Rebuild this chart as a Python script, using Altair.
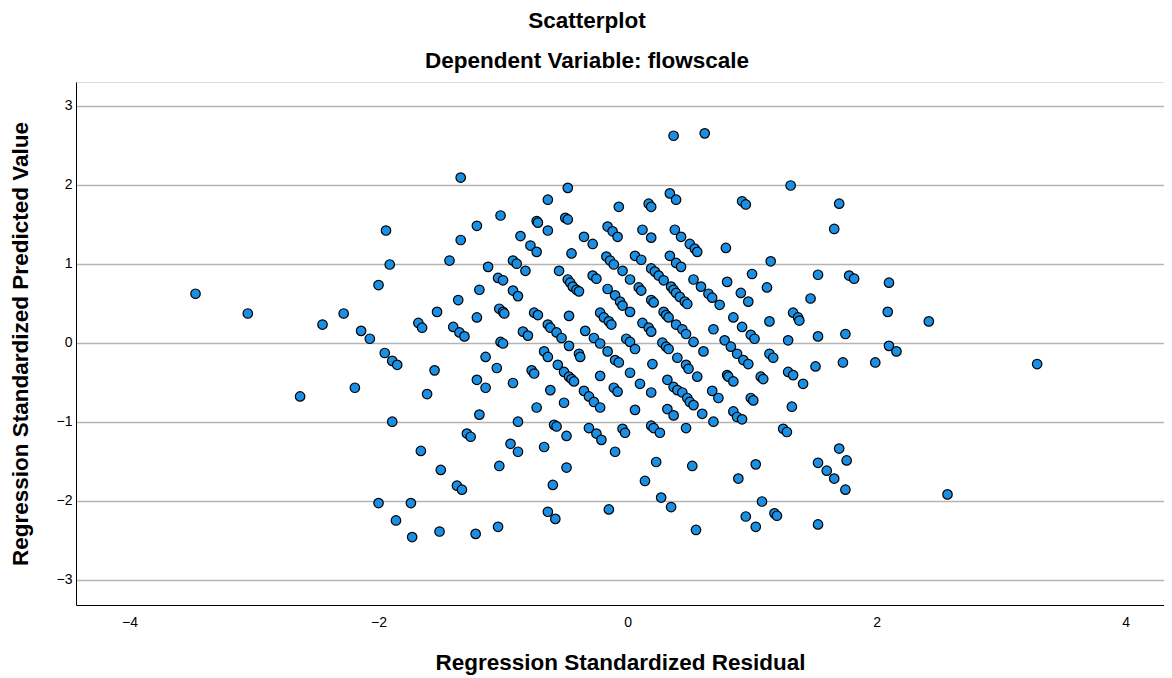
import altair as alt
import pandas as pd

# Regression Standardized Residual (x) for each case
residual = [
    -1.94, -1.91, -1.34, -0.48, -0.64, -0.07, -1.02, -1.21, -0.73, -0.72,
    -0.50, -0.48, -0.64, -0.86, -0.78, -0.73, -1.34, -0.45, -0.35, -0.28,
    -0.16, -0.12, -0.08, -0.17, -0.14, -0.11, -1.43, -1.12, -0.92, -0.89,
    -0.82, -0.55, -0.04, 0.37, 0.62, 1.31, 0.34, 0.39, 0.92, 0.95,
    1.70, 0.17, 0.19, 1.66, 0.12, 0.19, 0.38, 0.43, 0.50, 0.54,
    0.56, 0.79, 1.15, 0.06, 0.11, 0.34, 0.39, 0.43, 0.19, -3.47,
    -3.05, -2.45, -2.28, -2.00, -2.14, -2.07, -1.95, -1.89, -1.85, -2.63,
    -2.19, -1.89, -2.00, -1.86, -0.88, -0.59, -0.57, -0.31, -0.25, -0.21,
    -0.04, -0.02, -0.10, -1.29, -1.26, -0.94, -0.88, -0.67, -0.49, -1.66,
    -1.50, -1.03, -0.49, -1.37, -1.33, -0.60, -1.74, -1.73, -1.51, -1.22,
    -1.04, -0.64, -0.58, -0.15, 0.19, 0.21, 0.26, 0.47, 0.69, 0.85,
    0.88, 0.92, 1.25, 1.28, 1.70, 1.76, 1.53, 1.60, 1.66, 1.75,
    0.23, 0.52, 1.03, 0.14, 0.89, 0.27, 0.35, 1.08, 0.95, 1.18,
    1.20, 1.03, 1.53, 0.55, 2.57, 1.78, 1.82, 2.10, 2.09, 2.42,
    1.75, 2.10, 2.16, 1.73, 1.99, 3.29, 0.02, 0.09, 0.11, 0.22,
    0.25, 0.29, 0.35, 0.37, 0.39, 0.42, 0.46, 0.48, 0.53, 0.59,
    0.65, 0.68, 0.74, 0.80, 1.00, 1.53, 0.91, 0.97, 1.12, 1.47,
    0.02, 0.19, 0.21, 0.29, 0.31, 0.33, 0.12, 0.17, 0.19, 0.39,
    0.44, 0.47, 0.53, 0.69, 0.85, 0.92, 0.99, 1.02, 1.14, 1.33,
    1.37, 1.38, 1.53, 1.29, -0.01, 0.02, 0.06, 0.28, 0.31, 0.33,
    0.61, 0.78, 0.83, 0.88, 0.93, 0.97, 1.14, 1.17, 1.29, 1.33,
    1.41, 1.51, 0.20, 0.40, 0.47, 0.49, 0.56, 0.02, 0.10, 0.19,
    0.32, 0.37, 0.40, 0.44, 0.48, 0.50, 0.53, 0.60, 0.80, 0.81,
    0.85, 0.68, 0.73, 1.07, 1.09, 0.99, 1.01, 1.32, 0.06, 0.32,
    0.37, -1.04, -1.00, -1.19, -0.92, -0.88, -1.36, -1.53, -1.21, -1.03,
    -1.00, -0.99, -1.68, -1.65, -1.40, -1.35, -1.31, -1.02, -1.00, -0.84,
    -0.80, -0.75, -0.72, -0.48, -0.46, -0.44, -0.41, -0.39, -0.28, -0.25,
    -0.16, -0.10, -0.06, -0.04, -0.47, -0.64, -0.62, -0.57, -0.53, -0.47,
    -0.34, -0.27, -0.22, -0.16, -0.22, -0.19, -0.15, -0.13, -0.67, -0.64,
    -0.56, -0.51, -0.47, -0.45, -0.43, -0.39, -0.38, -0.35, -0.31, -0.27,
    -0.22, -0.22, -0.10, -0.07, -0.11, -0.08, -1.14, -1.05, -1.21, -1.14,
    -0.92, -0.77, -0.75, -0.62, -0.51, -0.73, -1.55, -1.61, -1.19,
]

# Regression Standardized Predicted Value (y) for each case
predicted = [
    1.42, 0.99, 2.09, 1.96, 1.81, 1.72, 1.61, 1.48, 1.54, 1.52,
    1.58, 1.56, 1.42, 1.35, 1.23, 1.15, 1.30, 1.13, 1.34, 1.25,
    1.47, 1.41, 1.34, 1.09, 1.04, 0.99, 1.04, 0.96, 1.04, 1.00,
    0.91, 0.91, 0.91, 2.62, 2.65, 1.99, 1.89, 1.81, 1.79, 1.75,
    1.76, 1.76, 1.72, 1.44, 1.43, 1.33, 1.43, 1.34, 1.25, 1.19,
    1.15, 1.20, 1.03, 1.10, 1.05, 1.10, 1.01, 0.96, 0.94, 0.62,
    0.37, 0.23, 0.37, 0.73, 0.15, 0.05, -0.13, -0.23, -0.28, -0.68,
    -0.57, -1.00, -2.03, -2.25, -1.00, -1.04, -1.06, -1.08, -1.15, -1.23,
    -1.09, -1.14, -1.38, -1.15, -1.19, -1.28, -1.38, -1.32, -1.18, -1.37,
    -1.61, -1.56, -1.58, -1.81, -1.86, -1.80, -2.03, -2.46, -2.39, -2.42,
    -2.33, -2.14, -2.23, -2.11, -1.05, -1.08, -1.14, -1.08, -1.00, -0.87,
    -0.94, -0.97, -1.09, -1.13, -1.34, -1.49, -1.52, -1.62, -1.72, -1.86,
    -1.51, -1.56, -1.54, -1.75, -1.72, -1.96, -2.08, -2.01, -2.20, -2.16,
    -2.19, -2.33, -2.30, -2.37, -1.92, 0.85, 0.81, 0.76, 0.39, 0.27,
    0.11, -0.04, -0.11, -0.25, -0.25, -0.27, 0.80, 0.70, 0.66, 0.90,
    0.85, 0.79, 0.71, 0.67, 0.63, 0.58, 0.52, 0.49, 0.80, 0.71,
    0.62, 0.57, 0.48, 0.77, 0.87, 0.86, 0.63, 0.52, 0.70, 0.56,
    0.39, 0.54, 0.51, 0.39, 0.35, 0.32, 0.25, 0.19, 0.14, 0.23,
    0.17, 0.11, 0.01, 0.17, 0.32, 0.20, 0.10, 0.05, 0.27, 0.38,
    0.32, 0.28, 0.08, 0.03, 0.05, 0.01, -0.08, 0.00, -0.05, -0.08,
    -0.11, 0.03, -0.05, -0.14, -0.22, -0.27, -0.14, -0.19, -0.37, -0.41,
    -0.52, -0.30, -0.27, -0.19, -0.28, -0.33, -0.43, -0.38, -0.52, -0.63,
    -0.47, -0.56, -0.60, -0.63, -0.70, -0.75, -0.79, -0.90, -0.41, -0.43,
    -0.49, -0.61, -0.70, -0.43, -0.46, -0.70, -0.73, -0.81, -0.85, -0.84,
    -0.92, 0.82, 0.79, 0.67, 0.66, 0.59, 0.54, 0.39, 0.32, 0.43,
    0.39, 0.37, 0.25, 0.19, 0.20, 0.13, 0.08, 0.01, -0.01, 0.14,
    0.09, 0.38, 0.35, 0.80, 0.76, 0.71, 0.67, 0.65, 0.85, 0.81,
    0.68, 0.60, 0.52, 0.47, 0.34, 0.23, 0.19, 0.13, 0.06, -0.04,
    0.15, 0.06, -0.01, -0.11, 0.38, 0.32, 0.27, 0.23, -0.11, -0.18,
    -0.28, -0.37, -0.43, -0.46, -0.49, -0.14, -0.18, -0.61, -0.68, -0.75,
    -0.82, -0.42, -0.22, -0.25, -0.57, -0.62, -0.18, -0.32, -0.47, -0.57,
    -0.51, -0.35, -0.39, -0.60, -0.76, -0.82, -0.35, -0.65, -0.91,
]

x_ticks = [-4, -2, 0, 2, 4]
y_ticks = [-3, -2, -1, 0, 1, 2, 3]

df = pd.DataFrame({"residual": residual, "predicted": predicted})

FONT = "Arial, Liberation Sans, sans-serif"
TITLE_SIZE = 22.5

chart = (
    alt.Chart(df)
    .mark_circle(size=90, color="#1b8fe3", stroke="#000000", strokeWidth=1.2, opacity=1)
    .encode(
        x=alt.X(
            "residual:Q",
            scale=alt.Scale(domain=[-4.43, 4.309], nice=False, zero=False),
            axis=alt.Axis(
                values=x_ticks,
                title="Regression Standardized Residual",
                grid=False,
                ticks=False,
                labelPadding=10,
                titlePadding=22,
                domainColor="#000000",
                domainWidth=1,
                labelFontSize=14,
                labelColor="#000000",
                labelFont=FONT,
                titleFont=FONT,
                titleFontSize=TITLE_SIZE,
                titleFontWeight="bold",
                titleColor="#000000",
            ),
        ),
        y=alt.Y(
            "predicted:Q",
            scale=alt.Scale(domain=[-3.32, 3.3], nice=False, zero=False),
            axis=alt.Axis(
                values=y_ticks,
                title="Regression Standardized Predicted Value",
                grid=True,
                gridColor="#b4b4b4",
                gridWidth=1.3,
                ticks=False,
                labelPadding=4,
                titlePadding=24,
                domainColor="#000000",
                domainWidth=1,
                labelFontSize=14,
                labelColor="#000000",
                labelFont=FONT,
                titleFont=FONT,
                titleFontSize=TITLE_SIZE,
                titleFontWeight="bold",
                titleColor="#000000",
            ),
        ),
    )
    .properties(
        width=1088,
        height=523,
        autosize=alt.AutoSizeParams(type="none"),
        padding={"left": 68, "top": 74, "right": 0, "bottom": 70},
        title=alt.TitleParams(
            text="Scatterplot",
            subtitle="Dependent Variable: flowscale",
            font=FONT,
            fontSize=TITLE_SIZE,
            fontWeight="bold",
            color="#000000",
            subtitleFont=FONT,
            subtitleFontSize=TITLE_SIZE,
            subtitleFontWeight="bold",
            subtitleColor="#000000",
            anchor="middle",
            offset=10,
            subtitlePadding=17,
            dx=-33,
        ),
    )
    .configure_view(stroke="transparent")
    .configure(background="white")
)

chart.save("out.html", embed_options={"renderer": "svg", "actions": False})
